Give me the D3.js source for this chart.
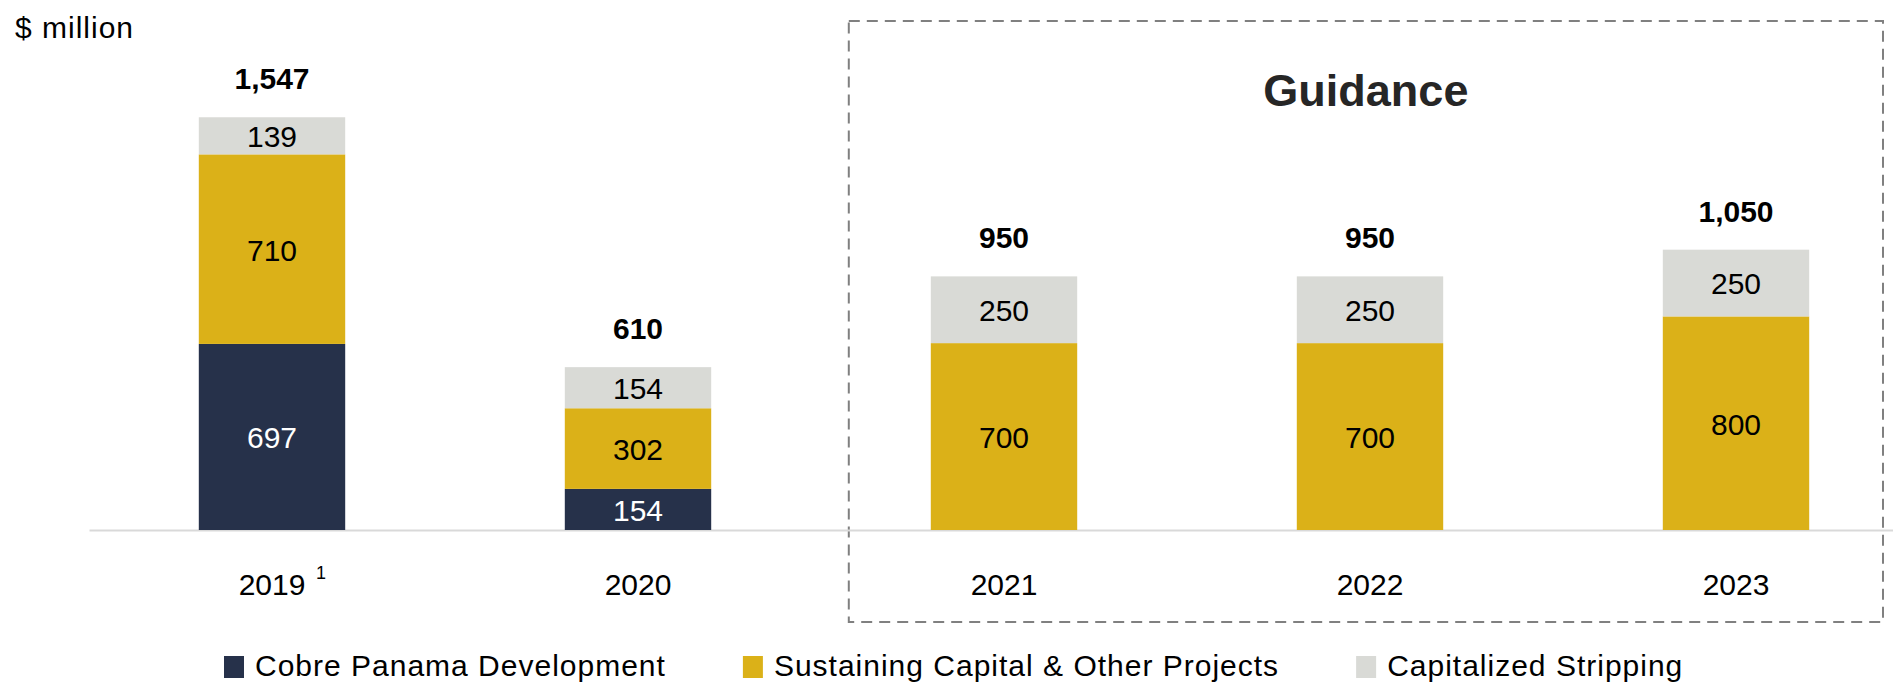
<!DOCTYPE html>
<html>
<head>
<meta charset="utf-8">
<script src="https://cdn.jsdelivr.net/npm/d3@7"></script>
<style>
  html, body { margin: 0; padding: 0; background: #fff; }
  svg { display: block; font-family: "Liberation Sans", Arial, sans-serif; }
</style>
</head>
<body>
<svg id="chart" width="1893" height="683"></svg>
<script>
// chart data
const years = ["2019", "2020", "2021", "2022", "2023"];
const yearFootnotes = ["1", "", "", "", ""];
const cobrePanama = [697, 154, 0, 0, 0];
const sustainingCapital = [710, 302, 700, 700, 800];
const capitalizedStripping = [139, 154, 250, 250, 250];
const totals = ["1,547", "610", "950", "950", "1,050"];
const guidanceYears = ["2021", "2022", "2023"];

const seriesNames = ["Cobre Panama Development", "Sustaining Capital & Other Projects", "Capitalized Stripping"];
const seriesColors = ["#26314a", "#dbb118", "#d9dad6"];
const labelColors = ["#ffffff", "#000000", "#000000"];

const svg = d3.select("#chart");
const baseline = 530;

let x = d3.scaleBand()
          .domain(years)
          .range([89, 1919])
          .paddingInner(0.6)
          .paddingOuter(0.3);

let y = d3.scaleLinear()
          .domain([0, 1547])
          .range([baseline, 117]);

let rows = years.map((year, i) => ({
  year: year,
  cobre: cobrePanama[i],
  sustaining: sustainingCapital[i],
  stripping: capitalizedStripping[i],
  total: totals[i],
  note: yearFootnotes[i]
}));

let stack = d3.stack().keys(["cobre", "sustaining", "stripping"]);
let layers = stack(rows);

// guidance box goes underneath everything
let drawGuidanceBox = () => {
  let left = x(guidanceYears[0]) - 82;
  let right = 1883;
  svg.append("rect")
     .attr("x", left)
     .attr("y", 21)
     .attr("width", right - left)
     .attr("height", 601)
     .attr("fill", "none")
     .attr("stroke", "#808080")
     .attr("stroke-width", 2)
     .attr("stroke-dasharray", "11 7");

  svg.append("text")
     .attr("x", (left + right) / 2)
     .attr("y", 106)
     .attr("text-anchor", "middle")
     .attr("font-size", 45)
     .attr("font-weight", "bold")
     .attr("fill", "#262626")
     .text("Guidance");
};

let drawAxis = () => {
  let axis = d3.axisBottom(x).tickSize(0).tickPadding(44);
  let g = svg.append("g")
             .attr("transform", `translate(0,${baseline})`)
             .call(axis);
  g.select(".domain")
   .attr("stroke", "#d9d9d9")
   .attr("stroke-width", 2);
  g.selectAll(".tick text")
   .attr("font-size", 30)
   .attr("font-family", "Liberation Sans, Arial, sans-serif")
   .attr("fill", "#000");

  // footnote markers next to the year labels
  svg.selectAll(".footnote")
     .data(rows.filter((d) => d.note))
     .enter()
     .append("text")
     .attr("class", "footnote")
     .attr("x", (d) => x(d.year) + x.bandwidth() / 2 + 44)
     .attr("y", 579)
     .attr("font-size", 18)
     .attr("fill", "#000")
     .text((d) => d.note);
};

let drawBars = () => {
  let groups = svg.selectAll(".layer")
                  .data(layers)
                  .enter()
                  .append("g")
                  .attr("class", "layer")
                  .attr("fill", (d, i) => seriesColors[i]);

  groups.selectAll("rect")
        .data((d) => d)
        .enter()
        .filter((d) => d[1] - d[0] > 0)
        .append("rect")
        .attr("x", (d) => x(d.data.year))
        .attr("y", (d) => y(d[1]))
        .attr("width", x.bandwidth())
        .attr("height", (d) => y(d[0]) - y(d[1]));

  layers.forEach((layer, i) => {
    svg.append("g")
       .selectAll("text")
       .data(layer.filter((d) => d[1] - d[0] > 0))
       .enter()
       .append("text")
       .attr("x", (d) => x(d.data.year) + x.bandwidth() / 2)
       .attr("y", (d) => (y(d[0]) + y(d[1])) / 2)
       .attr("dy", "0.38em")
       .attr("text-anchor", "middle")
       .attr("font-size", 30)
       .attr("fill", labelColors[i])
       .text((d) => d[1] - d[0]);
  });

  svg.selectAll(".total")
     .data(layers[2])
     .enter()
     .append("text")
     .attr("class", "total")
     .attr("x", (d) => x(d.data.year) + x.bandwidth() / 2)
     .attr("y", (d) => y(d[1]) - 28)
     .attr("text-anchor", "middle")
     .attr("font-size", 30)
     .attr("font-weight", "bold")
     .attr("fill", "#000")
     .text((d) => d.data.total);
};

let drawUnitLabel = () => {
  svg.append("text")
     .attr("x", 15)
     .attr("y", 38)
     .attr("font-size", 30)
     .attr("letter-spacing", 1)
     .attr("fill", "#000")
     .text("$ million");
};

let drawLegend = () => {
  let cursor = 224;
  seriesNames.forEach((name, i) => {
    svg.append("rect")
       .attr("x", cursor)
       .attr("y", 656)
       .attr("width", 20)
       .attr("height", 22)
       .attr("fill", seriesColors[i]);
    let label = svg.append("text")
                   .attr("x", cursor + 31)
                   .attr("y", 676)
                   .attr("font-size", 30)
                   .attr("letter-spacing", 1)
                   .attr("fill", "#000")
                   .text(name);
    cursor += 31 + label.node().getComputedTextLength() + 77;
  });
};

drawGuidanceBox();
drawAxis();
drawBars();
drawUnitLabel();
drawLegend();
</script>
</body>
</html>
